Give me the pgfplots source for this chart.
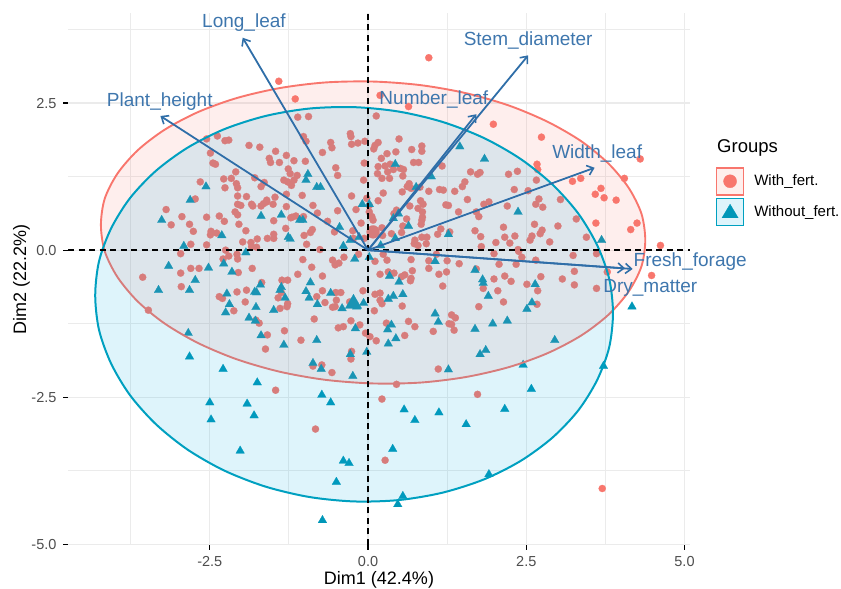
\documentclass[border=0pt]{standalone}
\usepackage{fontspec}
\setmainfont{Liberation Sans}
\usepackage{pgfplots}
\pgfplotsset{compat=1.18}
\usetikzlibrary{arrows.meta}
\definecolor{orangept}{HTML}{F8766D}
\definecolor{tealpt}{HTML}{0097B8}
\definecolor{tealln}{HTML}{00A0C0}
\definecolor{tealfill}{HTML}{00A8E0}
\definecolor{vecblue}{HTML}{2F6EA8}
\definecolor{vectxt}{HTML}{3E76AD}
\definecolor{gridc}{HTML}{EBEBEB}
\definecolor{ticktxt}{HTML}{4D4D4D}
\newcommand{\fs}[1]{\fontsize{#1bp}{#1bp}\selectfont}
\begin{document}
\begin{tikzpicture}[x=1bp,y=1bp]
\useasboundingbox (0,0) rectangle (841,589);
\begin{axis}[
  at={(68bp,44bp)}, anchor=south west, scale only axis,
  width=622bp, height=532bp,
  xmin=-4.74, xmax=5.087, ymin=-5.01, ymax=4.03,
  xtick={-2.5,0,2.5,5}, xticklabels={-2.5,0.0,2.5,5.0},
  ytick={-5,-2.5,0,2.5}, yticklabels={-5.0,-2.5,0.0,2.5},
  minor xtick={-3.75,-1.25,1.25,3.75}, minor ytick={-3.75,-1.25,1.25,3.75},
  grid=both,
  major grid style={gridc,line width=1.3bp},
  minor grid style={gridc,line width=1.0bp},
  axis line style={draw=none},
  tick align=outside, major tick length=5bp, minor tick length=0pt,
  tick style={black,line width=1.1bp},
  xtick pos=bottom, ytick pos=left,
  tick label style={font=\fs{14.5},text=ticktxt},
  xticklabel style={yshift=-3bp},
  yticklabel style={xshift=-3bp},
  xlabel={Dim1 (42.4\%)}, ylabel={Dim2 (22.2\%)},
  label style={font=\fs{18},text=black},
  xlabel style={at={(axis description cs:0.5,0)},anchor=base,yshift=-40bp},
  ylabel style={at={(axis description cs:0,0.5)},anchor=base,rotate=0,yshift=42bp},
  legend style={at={(rel axis cs:1.0415,0.7105)},anchor=north west,draw=none,fill=none,
     font=\fs{15},row sep=2bp,inner sep=0pt,outer sep=0pt,nodes={inner sep=1bp}},
  legend cell align=left,
  /tikz/every odd column/.append style={column sep=9bp},
  clip mode=individual,
]
% orange points
\addplot[forget plot,only marks,mark=*,mark size=3.6bp,mark options={draw=orangept,fill=orangept,line width=0.2bp}] coordinates {
(-1.41,2.87)(-2.55,1.89)(-2.38,1.94)(-2.26,1.86)(-2.2,1.87)(-1.88,1.78)(-1.71,1.75)(-1.46,1.68)(-1.29,1.61)(-1.56,1.56)
(-1.54,1.49)(-1.4,1.49)(-2.49,1.65)(-2.45,1.48)(-2.41,1.46)(-2.09,1.33)(-2.28,1.21)(-2.16,1.22)(-2.08,1.13)(-2.06,1.06)
(-2.26,1.06)(-2.65,1.16)(-1.79,1.23)(-1.64,1.15)(-1.69,1.08)(-1.26,1.38)(-1.33,1.19)(-1.27,1.16)(-1.29,0.95)(-2.06,0.92)
(-1.92,0.91)(-2.73,0.87)(-1.47,0.9)(-1.6,0.85)
(-3.19,0.69)(-2.94,0.57)(-3.11,0.43)(-2.82,0.44)(-2.76,0.32)(-2.55,0.56)(-2.35,0.58)(-2.27,0.49)(-2.1,0.65)(-2.06,0.6)
(-2.04,0.44)(-1.93,0.33)(-2.48,0.32)(-2.39,0.29)(-2.49,0.26)(-2.06,0.78)(-2.01,0.76)(-1.84,0.78)(-1.82,0.75)(-1.69,0.75)
(-1.65,0.79)(-1.6,0.82)(-1.5,0.78)(-1.29,0.74)(-1.49,0.5)(-1.3,0.37)(-1.22,0.55)(-1.98,0.14)(-1.85,0.13)(-1.75,0.19)
(-1.59,0.2)(-1.49,0.27)(-1.49,0.2)(-1.84,0.06)(-1.76,0.05)(-2.8,0.1)(-2.55,0.09)(-2.96,-0.06)(-2.25,0)(-2.2,-0.1)
(-2.07,-0.07)(-2.06,-0.15)(-2.29,-0.15)(-1.83,-0.31)(-2.05,-0.38)(-2.8,-0.31)(-2.67,-0.31)(-2.96,-0.39)(-3.56,-0.46)(-2.95,-0.62)
(-1.68,-0.55)(-1.36,-0.51)(-1.27,-0.51)(-1.37,-0.72)(-1.42,-0.81)(-2.07,-0.71)(-1.92,-0.68)(-2.35,-0.79)(-2.3,-0.82)(-1.94,-0.88)
(-2.12,-1.03)(-3.47,-1.02)(-1.27,-0.91)(-1.28,-0.96)(-1.39,-0.99)(-1.77,-1.19)(-1.72,-1.24)(-1.59,-1.44)(-1.32,-1.37)(-1.62,-1.68)
(-1.46,-2.38)
(-1.15,2.57)(-1.11,2.26)(-0.94,2.27)(0.13,2.28)(0.19,2.63)(0.64,2.44)(0.96,3.27)
(-0.28,1.98)(-0.27,1.93)(-0.26,1.8)(-0.16,1.82)(-0.05,1.85)(0.11,1.78)(0.16,1.83)(0.09,1.72)(0.49,1.89)(0.69,1.71)
(0.85,1.77)(0.85,1.68)(0.72,1.49)(0.8,1.49)(1.17,1.43)(-0.59,1.83)(-0.57,1.74)(-0.72,1.66)(-1.02,1.93)(-0.98,1.85)
(-1.17,1.52)(-0.99,1.51)(-0.51,1.4)(-0.48,1.27)(-0.06,1.48)(0.21,1.56)(0.3,1.64)(0.44,1.67)(0.16,1.42)(0.27,1.43)
(0.35,1.46)(0.15,1.3)(0.31,1.33)(0.4,1.37)(0.51,1.39)(0.56,1.37)(0.55,1.26)(0.22,1.22)(0.34,1.22)(-0.07,1.19)
(-1.23,1.3)(-1.12,1.27)(-1.17,1.19)(-1.21,1.1)(-1.04,0.93)(-0.26,0.92)(0.24,0.97)(-0.02,0.88)(0.16,0.84)(0.65,1.13)
(0.62,1.08)(0.68,1.05)(0.54,0.99)(0.82,1.07)(0.96,1)(1.13,1.03)(1.19,1.02)(0.83,0.84)(0.87,0.78)(0.66,0.75)
(0.79,0.71)(0.86,0.65)(0.86,0.56)(0.85,0.51)(0.84,0.44)(1.23,0.77)(1.27,0.76)(-0.87,0.76)(-0.8,0.63)(-0.48,0.67)
(-0.19,0.69)(0.02,0.76)(0.02,0.65)(0.45,0.68)(0.41,0.62)(0.06,0.57)(0.08,0.51)(0.61,0.53)(-0.11,0.46)(-0.64,0.49)
(-1.2,0.56)(-1.14,0.58)(-1.02,0.57)(-0.88,0.35)(-0.91,0.3)(-1.01,0.25)(-0.53,0.31)(-0.24,0.33)(0.22,0.38)(0.55,0.41)
(0.53,0.3)(0.37,0.28)(0.23,0.25)(-0.97,0.1)(-0.76,0.01)(0.85,0.22)(0.74,0.17)(0.93,0.22)(0.92,0.11)(0.79,0.08)
(0.73,0.11)(1.1,0.27)(1.15,0.36)(-0.06,0.2)(-0.23,0.2)
(-1.03,-0.16)(-0.89,-0.29)(-1.11,-0.41)(-0.72,-0.44)(-0.56,-0.17)(-0.52,-0.25)(-0.46,-0.22)(-0.38,-0.12)(-0.15,-0.07)(0.24,-0.07)
(0.11,-0.19)(0.3,-0.17)(0.19,-0.41)(0.32,-0.37)(0.41,-0.39)(0.53,-0.45)(0.58,-0.42)(0.68,-0.16)(0.96,-0.18)(1.08,-0.07)
(1.25,-0.18)(0.96,-0.31)(0.7,-0.35)(1.12,-0.41)(1.24,-0.37)(0.68,-0.48)(0.67,-0.52)(1.18,-0.61)(-0.72,-0.69)(-0.81,-0.79)
(-0.68,-0.89)(-0.51,-0.72)(-0.43,-0.72)(-0.5,-0.85)(-0.56,-0.97)(-0.52,-0.96)(-0.29,-0.88)(-0.08,-0.69)(0.11,-0.75)(0.19,-0.73)
(0.19,-0.85)(0.22,-0.91)(0.54,-0.95)(0.1,-1.03)(-0.85,-1.17)(-0.27,-1.2)(-0.47,-1.32)(-0.39,-1.3)(-0.13,-1.27)(-0.04,-1.41)
(0.03,-1.47)(0.13,-1.54)(0.29,-1.24)(0.64,-1.21)(0.74,-1.3)(0.58,-1.45)(1.03,-1.38)(1.28,-1.25)(-1.06,-1.53)(-0.26,-1.72)
(-0.27,-1.85)(-0.87,-1.97)(-0.73,-1.95)(-0.57,-2.08)(1.11,-2.02)
(2.74,1.92)(4.3,1.55)(2.67,1.46)(2.68,1.37)(1.62,1.33)(1.73,1.29)(1.77,1.32)(2.22,1.29)(2.36,1.34)(1.53,1.16)
(1.49,1.08)(1.37,1)(1.57,0.86)(2.31,1.03)(2.53,1.01)(2.66,1.19)(3.23,1.17)(3.36,1.22)(4.05,1.22)(3.68,1.05)
(3.59,0.95)(3.73,0.89)(3.92,0.85)(3.04,0.86)(2.7,0.87)(2.65,0.78)(2.76,0.73)(1.83,0.78)(1.91,0.82)(2.2,0.75)
(1.43,0.65)(1.71,0.65)(1.75,0.57)(3.29,0.53)(3.6,0.46)(4.25,0.46)(4.15,0.35)(2.63,0.44)(2.14,0.39)(3,0.41)
(1.69,0.33)(1.78,0.23)(2.32,0.24)(2.16,0.22)(2.02,0.13)(2.24,0.12)(2.75,0.34)(2.72,0.28)(2.59,0.24)(2.56,0.17)
(2.87,0.14)(3.45,0.22)(1.29,0.31)(1.79,0.06)(2.37,0.01)(4.62,0.08)(1.98,2.14)
(1.44,-0.23)(1.99,-0.49)(2.16,-0.44)(2.26,-0.53)(2.05,-0.69)(1.82,-0.65)(1.71,-0.32)(2.07,-0.24)(1.99,-0.06)(2.34,-0.24)
(2.43,-0.12)(2.38,-0.02)(2.65,-0.17)(2.51,-0.58)(2.68,-0.69)(2.73,-0.45)(3.07,-0.49)(3.26,-0.36)(3.26,-0.59)(3.24,-0.09)
(3.61,-0.06)(3.78,-0.37)(3.61,-0.65)(4.48,-0.43)(2.14,-0.88)(1.75,-0.96)(2.67,-0.92)(1.32,-1.1)(1.38,-1.15)(1.32,-1.26)
(1.36,-1.36)(1.73,-2.45)(0.45,-2.28)(0.22,-2.53)(-0.83,-3.04)(0.27,-3.57)(3.7,-4.05)
};
\addplot[forget plot,only marks,mark=*,mark size=6.5bp,mark options={draw=orangept,fill=orangept,line width=0.2bp}] coordinates {(0.08,0.31)};
% teal points
\addplot[forget plot,only marks,mark=triangle*,mark size=5bp,mark options={draw=tealpt,fill=tealpt,line width=0.2bp}] coordinates {
(-2.56,1.08)(-0.95,1.29)(-0.98,1.19)(-0.81,1.07)(-0.75,1.07)(-2.81,0.85)
(-3.26,0.51)(-1.69,0.58)(-1.37,0.6)(-1.08,0.51)(-1.03,0.51)(-2.31,0.25)(-1.26,0.22)(-2.91,0.07)(-1.93,-0.04)(-3.15,-0.27)
(-2.52,-0.3)(-2.28,-0.23)(-2.15,-0.37)(-2.73,-0.51)(-3.31,-0.68)(-2.82,-0.68)(-1.7,-0.59)(-2.23,-0.74)(-1.79,-0.71)(-1.76,-0.72)
(-1.37,-0.63)(-1.39,-0.68)(-1.31,-0.81)(-2.19,-0.92)(-2.25,-1.06)(-1.77,-0.97)(-1.49,-1.02)(-1.88,-1.15)(-1.78,-1.2)(-2.84,-1.41)
(-2.82,-1.81)(-1.69,-1.45)(-1.33,-1.61)(-2.29,-2.02)(-1.75,-2.25)
(0.43,1.46)(1,1.25)(0.76,1.07)(-0.09,0.78)(0.02,0.78)(-0.45,0.39)(0.4,0.54)(0.48,0.62)(0.64,0.41)(-0.14,0.22)
(-0.39,0.07)(-0.28,0.17)(0.2,0.08)(0.43,0.2)(1.27,0.27)(-1.23,0.19)
(-0.21,-0.15)(0.02,-0.12)(1.06,-0.19)(-0.91,-0.55)(-0.98,-0.7)(-0.93,-0.81)(-0.8,-0.92)(-0.59,-0.73)(-0.41,-0.99)(0.34,-0.44)
(0.49,-0.54)(-0.18,-0.96)(-0.07,-0.9)(0.32,-0.83)(0.4,-0.78)(0.55,-0.75)(1.06,-1.08)(1.11,-1.22)(0.37,-1.27)(0.31,-1.35)
(-0.2,-1.33)(-0.81,-1.53)(0.44,-1.5)(0.32,-1.59)(-0.02,-1.73)(-0.28,-1.77)(-0.87,-1.92)(-0.74,-2.02)(-0.24,-2.14)(1.27,-2.03)
(1.45,1.76)(1.84,1.55)(2.37,0.65)(3.69,0.17)
(1.69,-0.34)(1.81,-0.5)(1.82,-0.56)(2.64,-0.58)(1.9,-0.78)(2.59,-0.89)(2.51,-1)(4.17,-0.96)(1.69,-1.34)(1.97,-1.25)
(2.2,-1.2)(2.95,-1.53)(1.86,-1.7)(1.77,-1.77)(2.45,-1.95)(3.72,-1.97)(2.58,-2.36)
(-0.73,-2.46)(-2.5,-2.59)(-1.91,-2.61)(-0.59,-2.59)(0.57,-2.71)(-1.8,-2.81)(-2.48,-2.88)(1.12,-2.76)(2.16,-2.7)(0.74,-2.89)
(1.55,-2.96)(-2.02,-3.41)(0.39,-3.38)(-0.39,-3.58)(-0.3,-3.62)(-0.5,-3.94)(1.91,-3.81)(0.55,-4.18)(0.47,-4.32)(-0.72,-4.59)
};
\addplot[forget plot,only marks,mark=triangle*,mark size=9.5bp,mark options={draw=tealpt,fill=tealpt,line width=0.2bp}] coordinates {(-0.23,-0.91)};
% ellipses
\addplot[forget plot,smooth cycle,draw=orangept,line width=1.9bp,fill=orangept,fill opacity=0.12,draw opacity=1] coordinates {
(4.38,0.17)(4.32,0.618)(4.12,1.055)(3.80,1.47)(3.37,1.85)(2.84,2.18)(2.23,2.456)(1.55,2.667)(0.83,2.804)(0.08,2.865)
(-0.67,2.85)(-1.39,2.755)(-2.07,2.586)(-2.68,2.349)(-3.21,2.049)(-3.64,1.696)(-3.96,1.299)(-4.16,0.874)(-4.22,0.43)
(-4.16,-0.018)(-3.96,-0.455)(-3.64,-0.87)(-3.21,-1.249)(-2.68,-1.581)(-2.07,-1.856)(-1.39,-2.067)(-0.67,-2.204)(0.08,-2.265)
(0.83,-2.25)(1.55,-2.155)(2.23,-1.986)(2.84,-1.749)(3.37,-1.449)(3.80,-1.096)(4.12,-0.699)(4.32,-0.274)};
\addplot[forget plot,smooth cycle,draw=tealln,line width=2bp,fill=tealfill,fill opacity=0.13,draw opacity=1] coordinates {
(3.87,-1.07)(3.81,-0.485)(3.62,0.085)(3.32,0.625)(2.91,1.119)(2.41,1.55)(1.83,1.906)(1.18,2.178)(0.49,2.354)(-0.22,2.43)
(-0.93,2.406)(-1.62,2.28)(-2.27,2.056)(-2.85,1.742)(-3.35,1.349)(-3.76,0.885)(-4.06,0.367)(-4.25,-0.189)(-4.31,-0.77)
(-4.25,-1.355)(-4.06,-1.925)(-3.76,-2.465)(-3.35,-2.959)(-2.85,-3.39)(-2.27,-3.746)(-1.62,-4.018)(-0.93,-4.194)(-0.22,-4.27)
(0.49,-4.246)(1.18,-4.12)(1.83,-3.896)(2.41,-3.582)(2.91,-3.189)(3.32,-2.725)(3.62,-2.207)(3.81,-1.651)};
% zero lines
\addplot[forget plot,black,line width=1.7bp,dash pattern=on 6bp off 4.5bp] coordinates {(-4.74,0)(5.087,0)};
\addplot[forget plot,black,line width=1.7bp,dash pattern=on 6bp off 4.5bp] coordinates {(0,-5.01)(0,4.03)};
% variable arrows
\pgfplotsset{vec/.style={forget plot,vecblue,line width=1.8bp,-{Straight Barb[length=6bp,width=10bp,line width=1.6bp]}}}
\addplot[vec] coordinates {(0,0)(-1.98,3.61)};
\addplot[vec] coordinates {(0,0)(-3.28,2.28)};
\addplot[vec] coordinates {(0,0)(2.53,3.31)};
\addplot[vec] coordinates {(0,0)(1.71,2.31)};
\addplot[vec] coordinates {(0,0)(3.58,1.40)};
\addplot[vec] coordinates {(0,0)(4.18,-0.32)};
\addplot[vec] coordinates {(0,0)(4.06,-0.31)};
\node[text=vectxt,font=\fs{19},anchor=center] at (axis cs:-1.96,3.87) {Long\_leaf};
\node[text=vectxt,font=\fs{19},anchor=center] at (axis cs:2.53,3.57) {Stem\_diameter};
\node[text=vectxt,font=\fs{19},anchor=center] at (axis cs:1.04,2.56) {Number\_leaf};
\node[text=vectxt,font=\fs{19},anchor=center] at (axis cs:-3.29,2.52) {Plant\_height};
\node[text=vectxt,font=\fs{19},anchor=center] at (axis cs:3.62,1.64) {Width\_leaf};
\node[text=vectxt,font=\fs{19},anchor=center] at (axis cs:5.09,-0.2) {Fresh\_forage};
\node[text=vectxt,font=\fs{19},anchor=center] at (axis cs:4.46,-0.64) {Dry\_matter};
% legend
\addlegendimage{legend image code/.code={
  \draw[orangept,line width=1.5bp,fill=orangept!12] (0bp,-13.5bp) rectangle (27bp,13.5bp);
  \fill[orangept] (13.5bp,0bp) circle (6.5bp);}}
\addlegendentry{With\_fert.}
\addlegendimage{legend image code/.code={
  \draw[tealln,line width=1.5bp,fill=tealfill!13] (0bp,-13.5bp) rectangle (27bp,13.5bp);
  \fill[tealpt] (5.5bp,-6bp) -- (21.5bp,-6bp) -- (13.5bp,7.5bp) -- cycle;}}
\addlegendentry{Without\_fert.}
\end{axis}
\node[anchor=base west,font=\fs{18.5},inner sep=0pt] at (717,436) {Groups};
\end{tikzpicture}
\end{document}
